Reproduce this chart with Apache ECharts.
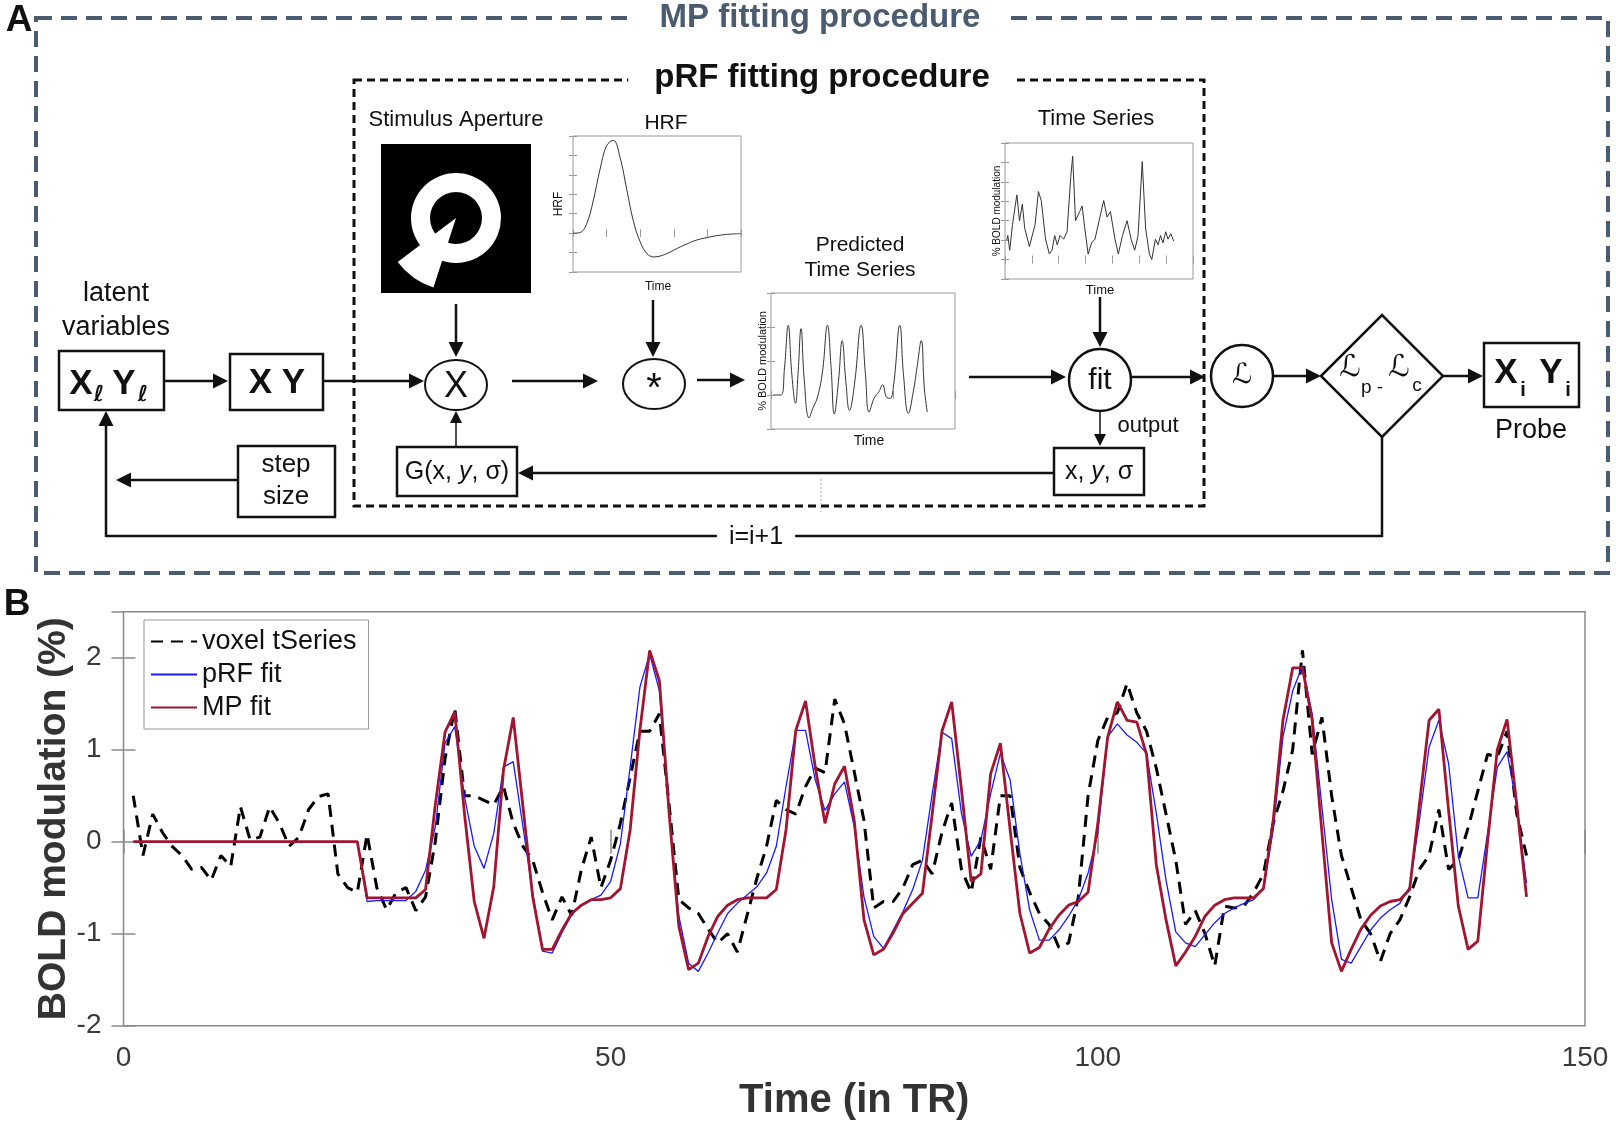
<!DOCTYPE html>
<html>
<head>
<meta charset="utf-8">
<script src="https://cdn.jsdelivr.net/npm/echarts@6/dist/echarts.min.js"></script>
<style>
  html, body { margin: 0; padding: 0; background: #fff; }
  #fig { width: 1616px; height: 1134px; }
</style>
</head>
<body>
<div id="fig"></div>
<script>
// ---- panel B data (BOLD modulation %, one value per TR, TR 1..144) ----
var voxelTSeries = [
  0.5, -0.15, 0.3, 0.1, -0.05, -0.15, -0.3, -0.28, -0.42, -0.15,
  -0.27, 0.38, 0.02, 0.05, 0.38, 0.2, -0.05, 0.05, 0.35, 0.49,
  0.52, -0.35, -0.5, -0.55, 0.08, -0.5, -0.74, -0.55, -0.5, -0.75,
  -0.6, 0.0, 0.9, 1.45, 0.5, 0.5, 0.45, 0.4, 0.6, 0.2,
  -0.05, -0.2, -0.55, -0.85, -0.6, -0.8, -0.3, 0.05, -0.5, -0.2,
  0.2, 0.7, 1.2, 1.2, 1.39, 0.4, -0.63, -0.72, -0.78, -0.95,
  -1.1, -1.0, -1.2, -0.8, -0.4, -0.05, 0.45, 0.35, 0.3, 0.6,
  0.8, 0.75, 1.55, 1.28, 0.76, 0.23, -0.72, -0.65, -0.65, -0.5,
  -0.25, -0.2, -0.35, 0.1, 0.42, -0.3, -0.55, 0.05, -0.3, 0.5,
  0.5, -0.28, -0.55, -0.78, -0.9, -1.15, -1.1, -0.6, 0.5, 1.1,
  1.35, 1.4, 1.72, 1.4, 1.2, 0.8, 0.3, -0.2, -0.9, -0.75,
  -1.0, -1.35, -0.7, -0.72, -0.7, -0.55, -0.35, 0.2, 0.55, 1.0,
  2.08, 0.95, 1.35, 0.5, -0.15, -0.5, -0.85, -1.0, -1.3, -1.0,
  -0.85, -0.6, -0.3, -0.15, 0.35, -0.3, -0.2, 0.15, 0.55, 0.95,
  0.92, 1.2, 0.3, -0.15
];
var prfFit = [
  0, 0, 0, 0, 0, 0, 0, 0, 0, 0,
  0, 0, 0, 0, 0, 0, 0, 0, 0, 0,
  0, 0, 0, 0, -0.65, -0.64, -0.64, -0.64, -0.64, -0.54,
  -0.31, 0.16, 1.07, 1.25, 0.49, -0.05, -0.29, 0.09, 0.81, 0.87,
  0.16, -0.56, -1.19, -1.21, -0.99, -0.79, -0.69, -0.63, -0.58, -0.43,
  -0.02, 0.81, 1.68, 2.04, 1.64, 0.31, -0.81, -1.32, -1.41, -1.21,
  -0.99, -0.78, -0.67, -0.58, -0.49, -0.34, -0.05, 0.6, 1.21, 1.21,
  0.67, 0.34, 0.52, 0.65, 0.16, -0.6, -1.03, -1.16, -0.96, -0.76,
  -0.52, -0.2, 0.52, 1.19, 1.12, 0.31, -0.16, 0.02, 0.52, 0.96,
  0.67, -0.13, -0.74, -1.07, -1.07, -0.96, -0.81, -0.63, -0.34, 0.09,
  1.14, 1.28, 1.16, 1.08, 0.96, 0.31, -0.42, -0.98, -1.1, -1.14,
  -1.01, -0.88, -0.78, -0.72, -0.67, -0.63, -0.51, 0.13, 1.14, 1.64,
  1.91, 1.39, 0.38, -0.63, -1.28, -1.32, -1.14, -0.96, -0.83, -0.74,
  -0.67, -0.49, 0.23, 1.03, 1.32, 0.85, -0.16, -0.61, -0.61, 0.09,
  0.81, 0.98, 0.38, -0.45
];
var mpFit = [
  0, 0, 0, 0, 0, 0, 0, 0, 0, 0,
  0, 0, 0, 0, 0, 0, 0, 0, 0, 0,
  0, 0, 0, 0, -0.61, -0.61, -0.61, -0.61, -0.61, -0.61,
  -0.52, 0.4, 1.19, 1.41, 0.3, -0.65, -1.05, -0.49, 0.78, 1.35,
  0.38, -0.6, -1.17, -1.17, -0.96, -0.78, -0.69, -0.63, -0.63, -0.61,
  -0.51, 0.13, 1.21, 2.08, 1.75, 0.31, -0.92, -1.39, -1.32, -1.03,
  -0.81, -0.69, -0.63, -0.61, -0.61, -0.61, -0.52, 0.13, 1.21, 1.53,
  0.81, 0.2, 0.63, 0.82, 0.23, -0.85, -1.23, -1.17, -0.99, -0.78,
  -0.67, -0.56, 0.3, 1.2, 1.52, 0.57, -0.43, -0.35, 0.74, 1.07,
  0.13, -0.78, -1.21, -1.15, -0.95, -0.8, -0.69, -0.65, -0.55, 0.2,
  1.13, 1.52, 1.32, 1.3, 0.95, -0.25, -0.85, -1.35, -1.2, -1.03,
  -0.81, -0.69, -0.63, -0.61, -0.61, -0.61, -0.51, 0.23, 1.32, 1.89,
  1.89, 1.32, 0.1, -1.1, -1.41, -1.17, -0.95, -0.8, -0.7, -0.65,
  -0.63, -0.52, 0.4, 1.32, 1.44, 0.34, -0.7, -1.17, -1.08, 0.0,
  1.0, 1.33, 0.4, -0.6
];
var seriesNames = ['voxel tSeries', 'pRF fit', 'MP fit'];

// ---- panel A inset curves ----
var hrfTime = [0, 1, 2, 3, 4, 5, 6, 7, 8, 9, 10, 11, 12, 13, 14, 15, 16, 17, 18, 19, 20, 21, 22, 23, 24, 25];
var hrfValue = [0, 0.005, 0.09, 0.33, 0.65, 0.9, 0.955, 0.78, 0.45, 0.12, -0.09, -0.21, -0.245, -0.235, -0.21,
  -0.175, -0.14, -0.11, -0.08, -0.06, -0.045, -0.03, -0.02, -0.012, -0.008, -0.005];
var predTime = [2, 8, 11, 14, 17, 20, 22, 24.5, 27, 31, 34, 38, 42, 46, 49, 51.6, 55, 58, 61, 64, 68, 73.5, 77,
  80, 84, 88, 91, 94, 97, 100, 105, 108, 112, 116, 119, 122.5, 125, 127.4];
var predValue = [0, 0, 0.8, 2.05, 0.6, -0.24, 0.6, 1.95, 0.5, -0.67, -0.4, -0.05, 0.7, 2.05, 0.8, -0.56, 0.4, 1.6,
  0.4, -0.45, 0.3, 2.05, 0.6, -0.5, -0.1, 0.1, 0.3, -0.05, -0.1, 0.3, 2.05, 0.6, -0.54, 0.1, 0.8, 1.6, 0.2, -0.5];
var tsTime = [1.3, 2.1, 3.5, 5.6, 8.8, 10.8, 12.9, 14.7, 18.2, 22.4, 24.9, 27, 30.2, 33, 35, 37, 38.9, 41, 43.7,
  46.2, 49, 50.4, 52.5, 55.6, 57.4, 59.4, 61.9, 64.5, 67, 70.1, 73.5, 76, 78.5, 81.9, 84.4, 87.5, 90.9, 93.9,
  96.6, 99.1, 102.2, 104.7, 107.5, 109.3, 112, 114, 115.8, 117.6, 119.7, 121.4, 123.5, 125.6];
var tsValue = [1.0, 1.24, 0.48, 1.8, 3.33, 2.0, 2.85, 1.6, 0.67, 1.8, 3.5, 3.04, 1.05, 0.29, 0.48, 1.24, 0.76, 1.24,
  1.05, 1.43, 4.28, 5.32, 2.0, 2.47, 2.76, 1.62, 0.29, 0.86, 1.05, 2.0, 3.04, 2.19, 2.47, 1.05, 0.29, 1.24, 2.0,
  1.05, 0.48, 1.24, 5.04, 1.62, 0.29, 0.0, 1.05, 0.76, 1.24, 0.86, 1.43, 1.05, 1.33, 0.95];

var FONT = '"Liberation Sans", Arial, Helvetica, sans-serif';
var MATH = '"DejaVu Serif", "DejaVu Sans", serif';
var INK = '#111';
var SLATE = '#4b5b70';

var chart = echarts.init(document.getElementById('fig'));

// ---- diagram helpers (panel A) ----
var shapes = [];
function line(x1, y1, x2, y2, w) {
  shapes.push({ type: 'line', z: 10, shape: { x1: x1, y1: y1, x2: x2, y2: y2 },
    style: { stroke: INK, lineWidth: w || 2.5 } });
}
// arrow with head at (x2, y2)
function arrow(x1, y1, x2, y2, w, len, half) {
  len = len || 15; half = half || 7.5;
  var a = Math.atan2(y2 - y1, x2 - x1);
  var bx = x2 - len * Math.cos(a), by = y2 - len * Math.sin(a);
  line(x1, y1, bx, by, w);
  shapes.push({ type: 'polygon', z: 10, shape: { points: [[x2, y2],
    [bx - half * Math.sin(a), by + half * Math.cos(a)], [bx + half * Math.sin(a), by - half * Math.cos(a)]] },
    style: { fill: INK } });
}
function box(x, y, w, h, lw) {
  shapes.push({ type: 'rect', z: 12, shape: { x: x, y: y, width: w, height: h },
    style: { fill: '#fff', stroke: INK, lineWidth: lw || 2.5 } });
}
function oval(cx, cy, rx, ry, lw) {
  shapes.push({ type: 'ellipse', z: 12, shape: { cx: cx, cy: cy, rx: rx, ry: ry },
    style: { fill: '#fff', stroke: INK, lineWidth: lw || 2.5 } });
}
function text(x, y, str, size, extra, rot) {
  shapes.push({ type: 'text', z: 20, x: x, y: y, rotation: rot || 0, style: Object.assign({
    text: str, fontSize: size, fontFamily: FONT, fill: INK, align: 'center', verticalAlign: 'middle'
  }, extra || {}) });
}
var italicRich = { n: { fontSize: 25, fontFamily: FONT, fill: INK }, i: { fontSize: 25, fontFamily: FONT, fontStyle: 'italic', fill: INK } };

// outer and inner dashed frames
shapes.push({ type: 'rect', z: 5, shape: { x: 36, y: 18, width: 1572, height: 555 },
  style: { fill: 'none', stroke: SLATE, lineWidth: 4, lineDash: [16, 9] } });
shapes.push({ type: 'rect', z: 5, shape: { x: 354, y: 80, width: 850, height: 426 },
  style: { fill: 'none', stroke: INK, lineWidth: 3, lineDash: [8, 5] } });
text(820, 18, 'MP fitting procedure', 33, { fontWeight: 'bold', fill: SLATE, backgroundColor: '#fff', padding: [0, 30] });
text(822, 78, 'pRF fitting procedure', 33, { fontWeight: 'bold', backgroundColor: '#fff', padding: [0, 26] });
text(19, 21, 'A', 37, { fontWeight: 'bold' });
text(17, 605, 'B', 37, { fontWeight: 'bold' });

// latent variables -> XY
text(116, 294, 'latent', 27);
text(116, 328, 'variables', 27);
box(59, 351, 105, 59);
text(81, 384, 'X', 35, { fontWeight: 'bold' });
text(99, 395, 'ℓ', 22, { fontWeight: 'bold', fontStyle: 'italic', fontFamily: MATH });
text(124, 384, 'Y', 35, { fontWeight: 'bold' });
text(143, 395, 'ℓ', 22, { fontWeight: 'bold', fontStyle: 'italic', fontFamily: MATH });
arrow(164, 381, 228, 381);
box(230, 354, 93, 56);
text(277, 383, 'X Y', 35, { fontWeight: 'bold' });
arrow(323, 381, 424, 381);

// stimulus aperture
text(456, 120, 'Stimulus Aperture', 22);
shapes.push({ type: 'rect', z: 10, shape: { x: 381, y: 144, width: 150, height: 149 }, style: { fill: '#000' } });
shapes.push({ type: 'ring', z: 11, shape: { cx: 456, cy: 218, r: 45, r0: 26 }, style: { fill: '#fff' } });
shapes.push({ type: 'sector', z: 11, shape: { cx: 456, cy: 218, r: 73, r0: 0,
  startAngle: 108 * Math.PI / 180, endAngle: 143 * Math.PI / 180, clockwise: true }, style: { fill: '#fff' } });
arrow(456, 304, 456, 357);
oval(456, 385, 31, 25, 2);
text(456, 387, 'X', 36);

// G(x, y, sigma) and step size
box(397, 447, 120, 49);
text(457, 472, '{n|G(x, }{i|y}{n|, σ)}', 25, { rich: italicRich });
arrow(456, 447, 456, 411, 1.5, 12, 6);
box(238, 446, 97, 71);
text(286, 465, 'step', 26);
text(286, 497, 'size', 26);
arrow(238, 480, 116, 480);

// HRF and convolution
text(666, 123, 'HRF', 21);
text(559, 204, 'HRF', 12, null, Math.PI / 2);
text(658, 287, 'Time', 12);
arrow(653, 300, 653, 357);
arrow(512, 381, 598, 381);
oval(654, 384, 31, 25, 2);
text(654, 390, '*', 40);
arrow(697, 380, 745, 380);

// predicted time series
text(860, 245, 'Predicted', 21);
text(860, 270, 'Time Series', 21);
text(763, 361, '% BOLD modulation', 11, null, Math.PI / 2);
text(869, 441, 'Time', 14);
arrow(969, 377, 1066, 377);

// measured time series and fit
text(1096, 119, 'Time Series', 22);
text(997, 211, '% BOLD modulation', 10, null, Math.PI / 2);
text(1100, 290, 'Time', 13);
arrow(1100, 297, 1100, 347);
oval(1100, 380, 31, 31, 2.5);
text(1100, 381, 'fit', 30);
arrow(1100, 411, 1100, 446, 1.5, 12, 6);
text(1148, 426, 'output', 22);
box(1054, 448, 90, 47);
text(1099, 472, '{n|x, }{i|y}{n|, σ}', 25, { rich: italicRich });
arrow(1054, 473, 518, 473);
shapes.push({ type: 'line', z: 6, shape: { x1: 821, y1: 479, x2: 821, y2: 512 },
  style: { stroke: '#aaa', lineWidth: 1, lineDash: [2, 2] } });

// likelihood, comparison, probe
arrow(1131, 377, 1205, 377);
oval(1242, 376, 31, 31, 2.5);
text(1242, 376, 'ℒ', 28, { fontFamily: MATH, fontStyle: 'italic' });
arrow(1273, 376, 1321, 376);
shapes.push({ type: 'polygon', z: 12, shape: { points: [[1321, 376], [1382, 315], [1443, 376], [1382, 437]] },
  style: { fill: '#fff', stroke: INK, lineWidth: 2.5 } });
text(1350, 368, 'ℒ', 30, { fontFamily: MATH, fontStyle: 'italic' });
text(1372, 388, 'p -', 19);
text(1399, 368, 'ℒ', 30, { fontFamily: MATH, fontStyle: 'italic' });
text(1417, 386, 'c', 19);
arrow(1443, 376, 1483, 376);
box(1484, 343, 95, 64);
text(1506, 373, 'X', 35, { fontWeight: 'bold' });
text(1523, 390, 'i', 20, { fontWeight: 'bold' });
text(1551, 373, 'Y', 35, { fontWeight: 'bold' });
text(1568, 390, 'i', 20, { fontWeight: 'bold' });
text(1531, 431, 'Probe', 27);

// iteration loop
shapes.push({ type: 'polyline', z: 10, shape: { points: [[1382, 437], [1382, 536], [106, 536]] },
  style: { stroke: INK, lineWidth: 2.5, fill: 'none' } });
arrow(106, 537, 106, 411);
text(756, 537, 'i=i+1', 25, { backgroundColor: '#fff', padding: [0, 12] });

// ---- axes ----
var axisGray = '#8a8a8a';
var mainTick = { inside: true, length: 12, lineStyle: { color: axisGray, width: 1.5 } };
var grids = [
  { left: 123.5, top: 611.7, width: 1461.5, height: 414, show: true, borderColor: axisGray, borderWidth: 1.5 },
  { left: 573, top: 136, width: 168, height: 136, show: true, borderColor: '#999', borderWidth: 1 },
  { left: 771, top: 293, width: 184, height: 136, show: true, borderColor: '#999', borderWidth: 1 },
  { left: 1005, top: 143, width: 188, height: 136, show: true, borderColor: '#999', borderWidth: 1 }
];
var xAxes = [
  { type: 'value', gridIndex: 0, position: 'bottom', min: 0, max: 150, interval: 50,
    axisLine: { show: false }, axisTick: mainTick, splitLine: { show: false },
    axisLabel: { fontSize: 28, color: '#3a3a3a', margin: 19, fontFamily: FONT },
    name: 'Time (in TR)', nameLocation: 'middle', nameGap: 55, nameMoveOverlap: false,
    nameTextStyle: { fontSize: 40, fontWeight: 'bold', color: '#333', fontFamily: FONT } },
  { type: 'value', gridIndex: 0, position: 'top', min: 0, max: 150, interval: 50,
    axisLine: { show: false }, axisTick: mainTick, splitLine: { show: false }, axisLabel: { show: false } }
];
var yAxes = [
  { type: 'value', gridIndex: 0, position: 'left', min: -2, max: 2.5, interval: 1,
    axisLine: { show: false }, axisTick: mainTick, splitLine: { show: false },
    axisLabel: { fontSize: 28, color: '#3a3a3a', margin: 22, fontFamily: FONT, showMaxLabel: false },
    name: 'BOLD modulation (%)', nameLocation: 'middle', nameGap: 50, nameMoveOverlap: false,
    nameTextStyle: { fontSize: 39, fontWeight: 'bold', color: '#333', fontFamily: FONT } },
  { type: 'value', gridIndex: 0, position: 'right', min: -2, max: 2.5, interval: 1,
    axisLine: { show: false }, axisTick: mainTick, splitLine: { show: false }, axisLabel: { show: false } }
];
var insetTick = { inside: true, length: 4, lineStyle: { color: '#9a9a9a', width: 1 } };
function insetAxes(gi, xr, xi, yr, yi) {
  ['bottom', 'top'].forEach(function (p) {
    xAxes.push({ type: 'value', gridIndex: gi, position: p, min: xr[0], max: xr[1], interval: xi,
      axisLine: { show: false }, axisTick: insetTick, axisLabel: { show: false }, splitLine: { show: false } });
  });
  ['left', 'right'].forEach(function (p) {
    yAxes.push({ type: 'value', gridIndex: gi, position: p, min: yr[0], max: yr[1], interval: yi,
      axisLine: { show: false }, axisTick: insetTick, axisLabel: { show: false }, splitLine: { show: false } });
  });
}
insetAxes(1, [0, 25], 5, [-0.4, 1.0], 0.2);
insetAxes(2, [0, 150], 50, [-1, 3], 1);
insetAxes(3, [0, 140], 20, [-1, 6], 1);

function pairs(xs, ys) { return xs.map(function (x, i) { return [x, ys[i]]; }); }
function trPairs(ys) { return ys.map(function (v, i) { return [i + 1, v]; }); }
var insetLine = { color: '#333', width: 1 };

var option = {
  backgroundColor: '#fff',
  animation: false,
  grid: grids,
  xAxis: xAxes,
  yAxis: yAxes,
  legend: {
    data: seriesNames, left: 144, top: 620, orient: 'vertical',
    backgroundColor: '#fff', borderColor: '#999', borderWidth: 1, padding: [8, 12, 8, 6],
    itemGap: 6, itemWidth: 46, itemHeight: 14,
    textStyle: { fontSize: 27, color: INK, fontFamily: FONT }
  },
  graphic: shapes,
  series: [
    // itemStyle opacity 0 keeps the legend icon a bare line (no marker dot)
    { type: 'line', name: seriesNames[0], xAxisIndex: 0, yAxisIndex: 0, data: trPairs(voxelTSeries),
      symbol: 'none', lineStyle: { color: '#000', width: 3, type: [12, 8] }, itemStyle: { color: '#000', opacity: 0 } },
    { type: 'line', name: seriesNames[1], xAxisIndex: 0, yAxisIndex: 0, data: trPairs(prfFit),
      symbol: 'none', lineStyle: { color: '#1a1aff', width: 1.3 }, itemStyle: { color: '#1a1aff', opacity: 0 } },
    { type: 'line', name: seriesNames[2], xAxisIndex: 0, yAxisIndex: 0, data: trPairs(mpFit),
      symbol: 'none', lineStyle: { color: '#a2142f', width: 2.8 }, itemStyle: { color: '#a2142f', opacity: 0 } },
    { type: 'line', name: 'HRF', xAxisIndex: 2, yAxisIndex: 2, data: pairs(hrfTime, hrfValue),
      symbol: 'none', smooth: 0.4, lineStyle: insetLine },
    { type: 'line', name: 'Predicted', xAxisIndex: 4, yAxisIndex: 4, data: pairs(predTime, predValue),
      symbol: 'none', smooth: 0.45, lineStyle: insetLine },
    { type: 'line', name: 'Measured', xAxisIndex: 6, yAxisIndex: 6, data: pairs(tsTime, tsValue),
      symbol: 'none', lineStyle: insetLine }
  ]
};

chart.setOption(option);
</script>
</body>
</html>
